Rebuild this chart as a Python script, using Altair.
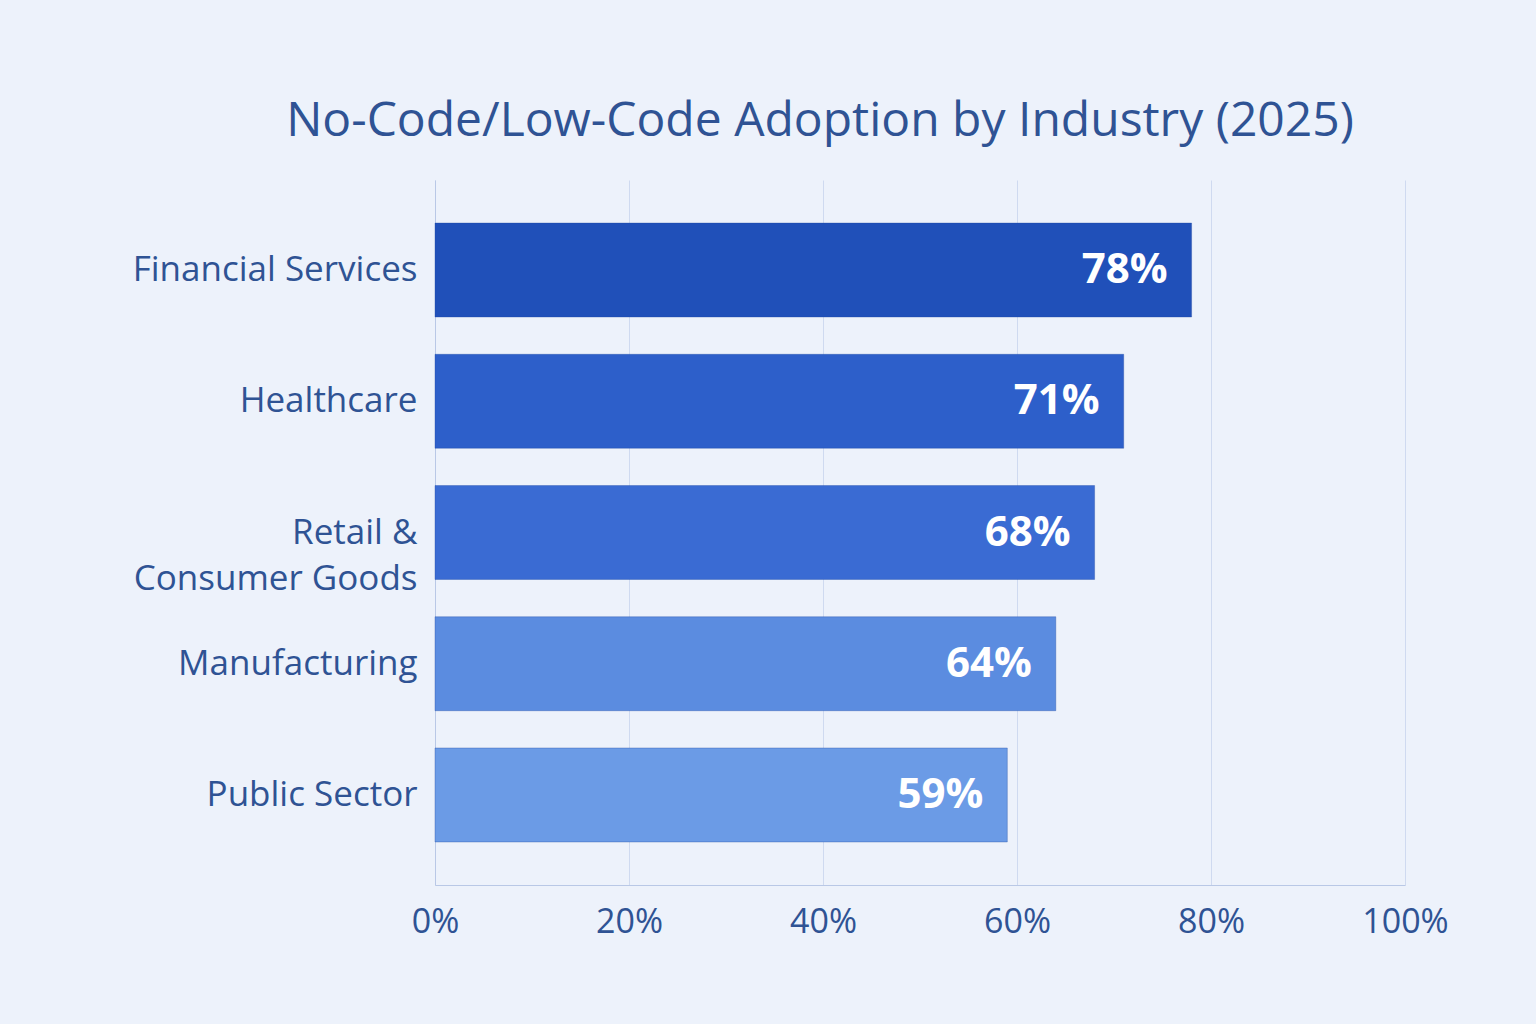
import altair as alt
import pandas as pd

# Adoption share by industry, 2025 (percent of organisations)
industries = [
    "Financial Services",
    "Healthcare",
    "Retail & Consumer Goods",
    "Manufacturing",
    "Public Sector",
]
adoption = [78, 71, 68, 64, 59]
bar_colors = ["#2050b9", "#2d5fca", "#3a6bd3", "#5b8ce0", "#6b9be6"]
x_ticks = [0, 20, 40, 60, 80, 100]

df = pd.DataFrame({"industry": industries, "adoption": adoption, "color": bar_colors})
df["label"] = df["adoption"].astype(str) + "%"

font = "Open Sans"
text_blue = "#2f5394"

y_enc = alt.Y(
    "industry:N",
    sort=industries,
    title=None,
    scale=alt.Scale(paddingInner=0.284, paddingOuter=0.328),
    axis=alt.Axis(
        labelFont=font,
        labelFontSize=35,
        labelFontWeight=500,
        labelColor=text_blue,
        labelPadding=18,
        labelLimit=420,
        labelLineHeight=46,
        ticks=False,
        domain=True,
        domainColor="#b9c8e6",
        grid=False,
        labelExpr="datum.label == 'Retail & Consumer Goods' ? ['Retail &', 'Consumer Goods'] : datum.label",
    ),
)

x_enc = alt.X(
    "adoption:Q",
    title=None,
    scale=alt.Scale(domain=[0, 100], nice=False),
    axis=alt.Axis(
        values=x_ticks,
        labelExpr="datum.value + '%'",
        labelFont=font,
        labelFontSize=34,
        labelColor=text_blue,
        labelPadding=20,
        labelFlush=False,
        ticks=False,
        domain=True,
        domainColor="#b9c8e6",
        grid=True,
        gridColor="#cfdaf0",
        gridWidth=1,
    ),
)

bars = alt.Chart(df).mark_bar(
    stroke="#1d48a0", strokeOpacity=0.35, strokeWidth=1
).encode(
    x=x_enc,
    y=y_enc,
    color=alt.Color("color:N", scale=None, legend=None),
)

labels = alt.Chart(df).mark_text(
    align="right",
    baseline="middle",
    dx=-24,
    font=font,
    fontSize=42,
    fontWeight="bold",
    color="white",
).encode(
    x=alt.X("adoption:Q"),
    y=alt.Y("industry:N", sort=industries),
    text="label:N",
)

chart = (
    alt.layer(bars, labels)
    .properties(
        width=970,
        height=705,
        autosize=alt.AutoSizeParams(type="none"),
        padding={"left": 435, "top": 180, "right": 131, "bottom": 139},
        background="#edf2fb",
        title=alt.TitleParams(
            "No-Code/Low-Code Adoption by Industry (2025)",
            font=font,
            fontSize=48,
            fontWeight=500,
            color=text_blue,
            anchor="middle",
            dx=-100,
            offset=34,
        ),
    )
    .configure_view(stroke=None)
)

chart.save("out.html", embed_options={"renderer": "svg", "actions": False})
